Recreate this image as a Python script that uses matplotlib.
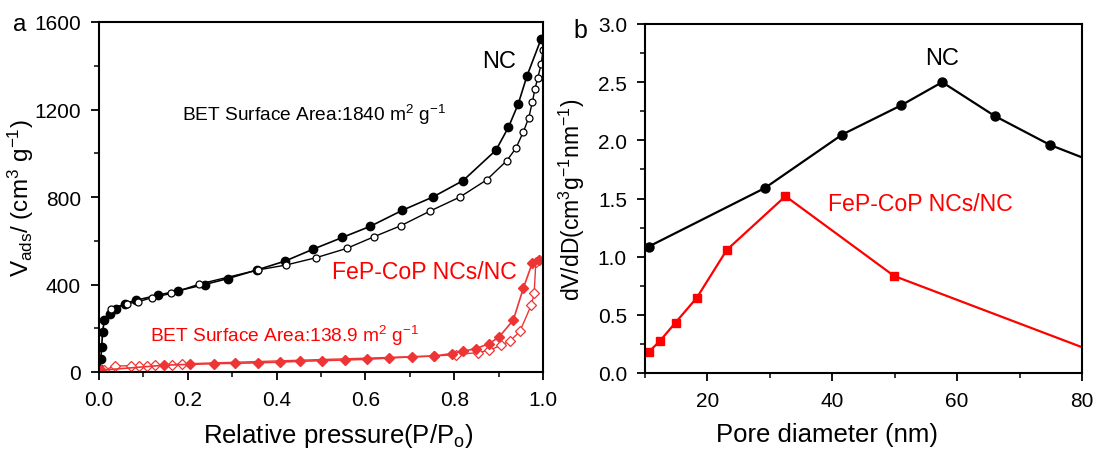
import matplotlib
matplotlib.use("Agg")
import matplotlib.pyplot as plt
from matplotlib.ticker import MultipleLocator, FormatStrFormatter

plt.rcParams['font.family'] = ['Liberation Sans', 'DejaVu Sans']
plt.rcParams['mathtext.fontset'] = 'custom'
plt.rcParams['mathtext.rm'] = 'Liberation Sans'
plt.rcParams['mathtext.it'] = 'Liberation Sans'

# ---------- Panel a data: N2 isotherms ----------
nc_ads_p = [0.002, 0.004, 0.006, 0.008, 0.012, 0.024, 0.038, 0.058, 0.083, 0.133,
            0.177, 0.238, 0.290, 0.355, 0.419, 0.483, 0.548, 0.611, 0.683, 0.752,
            0.820, 0.894, 0.922, 0.944, 0.964, 0.996]
nc_ads_v = [15, 61, 114, 183, 237, 267, 290, 313, 328, 351,
            371, 400, 427, 466, 507, 562, 615, 666, 739, 800,
            875, 1014, 1118, 1224, 1354, 1524]
nc_des_p = [1.000, 0.996, 0.988, 0.982, 0.976, 0.968, 0.956, 0.939, 0.918, 0.873,
            0.813, 0.746, 0.680, 0.619, 0.558, 0.488, 0.421, 0.357, 0.226, 0.163,
            0.119, 0.087, 0.063, 0.028]
nc_des_v = [1473, 1408, 1343, 1295, 1234, 1163, 1099, 1023, 965, 878,
            800, 736, 669, 618, 565, 522, 489, 466, 402, 359,
            340, 320, 313, 290]

fe_ads_p = [0.004, 0.146, 0.206, 0.258, 0.307, 0.357, 0.407, 0.452, 0.502, 0.553,
            0.603, 0.653, 0.704, 0.754, 0.794, 0.820, 0.849, 0.879, 0.901, 0.933,
            0.956, 0.976, 0.990]
fe_ads_v = [8, 31, 35, 38, 40, 42, 45, 49, 52, 55,
            58, 64, 69, 73, 84, 95, 107, 130, 160, 237,
            385, 499, 514]
fe_des_p = [0.990, 0.984, 0.980, 0.974, 0.948, 0.926, 0.905, 0.879, 0.853, 0.804,
            0.754, 0.187, 0.164, 0.126, 0.108, 0.089, 0.071, 0.037, 0.012]
fe_des_v = [514, 505, 359, 308, 186, 142, 122, 99, 89, 79,
            73, 37, 33, 32, 29, 29, 29, 27, 10]

# ---------- Panel b data: pore size distribution ----------
nc_d = [10.6, 29.2, 41.6, 51.0, 57.6, 66.0, 74.9, 84.0]
nc_dv = [1.087, 1.59, 2.05, 2.30, 2.50, 2.21, 1.96, 1.77]
fe_d = [10.6, 12.4, 14.9, 18.3, 23.1, 32.5, 49.9, 85.0]
fe_dv = [0.181, 0.276, 0.434, 0.647, 1.058, 1.52, 0.834, 0.12]

red_a = '#EE3535'
red_b = '#FF0000'

fig = plt.figure(figsize=(10.99, 4.52), dpi=100)
axa = fig.add_axes([99/1099, 1-373/452, 444/1099, 350/452])
axb = fig.add_axes([645/1099, 1-374/452, 437/1099, 349/452])

for ax in (axa, axb):
    for s in ax.spines.values():
        s.set_linewidth(1.5)
    ax.tick_params(which='major', direction='out', length=6, width=1.3,
                   labelsize=15, pad=7, top=False, right=False)
    ax.tick_params(which='minor', direction='out', length=3.5, width=1.1,
                   top=False, right=False)

# Panel a
axa.plot(nc_ads_p, nc_ads_v, '-o', color='black', lw=1.2, ms=6, mfc='black', mec='black')
axa.plot(nc_des_p, nc_des_v, '-o', color='black', lw=1.0, ms=5, mfc='white', mec='black', mew=0.9)
axa.plot(fe_des_p, fe_des_v, '-D', color=red_a, lw=1.0, ms=5, mfc='white', mec=red_a, mew=0.9)
axa.plot(fe_ads_p, fe_ads_v, '-D', color=red_a, lw=1.2, ms=5.5, mfc=red_a, mec=red_a)
axa.set_xlim(0, 1.0)
axa.set_ylim(0, 1600)
axa.xaxis.set_major_locator(MultipleLocator(0.2))
axa.xaxis.set_minor_locator(MultipleLocator(0.1))
axa.yaxis.set_major_locator(MultipleLocator(400))
axa.yaxis.set_minor_locator(MultipleLocator(200))
axa.xaxis.set_major_formatter(FormatStrFormatter('%.1f'))
axa.set_xlabel(r'Relative pressure(P/P$_{\mathrm{o}}$)', fontsize=18.5)
axa.xaxis.set_label_coords(0.538, -0.14)
axa.set_ylabel(r'V$_{\mathrm{ads}}$/ (cm$^{3}$ g$^{-1}$)', fontsize=17.5)
axa.yaxis.set_label_coords(-0.142, 0.5)

axa.text(0.94, 1420, 'NC', fontsize=17, ha='right', va='center', color='black')
axa.text(0.187, 1178, r'BET Surface Area:1840 m$^{2}$ g$^{-1}$', fontsize=13.8,
         ha='left', va='center', color='black')
axa.text(0.94, 458, 'FeP-CoP NCs/NC', fontsize=16.6, ha='right', va='center', color=red_b)
axa.text(0.115, 168, r'BET Surface Area:138.9 m$^{2}$ g$^{-1}$', fontsize=13.8,
         ha='left', va='center', color=red_b)
fig.text(13/1099, 1-25/452, 'a', fontsize=17.5, ha='left', va='center')

# Panel b
axb.plot(nc_d, nc_dv, '-o', color='black', lw=1.6, ms=6.5)
axb.plot(fe_d, fe_dv, '-s', color=red_b, lw=1.6, ms=5.5)
axb.set_xlim(10, 80)
axb.set_ylim(0, 3.0)
axb.xaxis.set_major_locator(MultipleLocator(20))
axb.xaxis.set_minor_locator(MultipleLocator(10))
axb.yaxis.set_major_locator(MultipleLocator(0.5))
axb.yaxis.set_minor_locator(MultipleLocator(0.25))
axb.yaxis.set_major_formatter(FormatStrFormatter('%.1f'))
axb.set_xlabel('Pore diameter (nm)', fontsize=18.5)
axb.xaxis.set_label_coords(0.416, -0.14)
axb.set_ylabel(r'dV/dD(cm$^{3}$g$^{-1}$nm$^{-1}$)', fontsize=16.5)
axb.yaxis.set_label_coords(-0.133, 0.5)
axb.text(57.6, 2.71, 'NC', fontsize=17, ha='center', va='center', color='black')
axb.text(39.3, 1.46, 'FeP-CoP NCs/NC', fontsize=16.6, ha='left', va='center', color=red_b)
fig.text(580/1099, 1-31/452, 'b', fontsize=18, ha='center', va='center')

fig.savefig('out.png', dpi=100)
